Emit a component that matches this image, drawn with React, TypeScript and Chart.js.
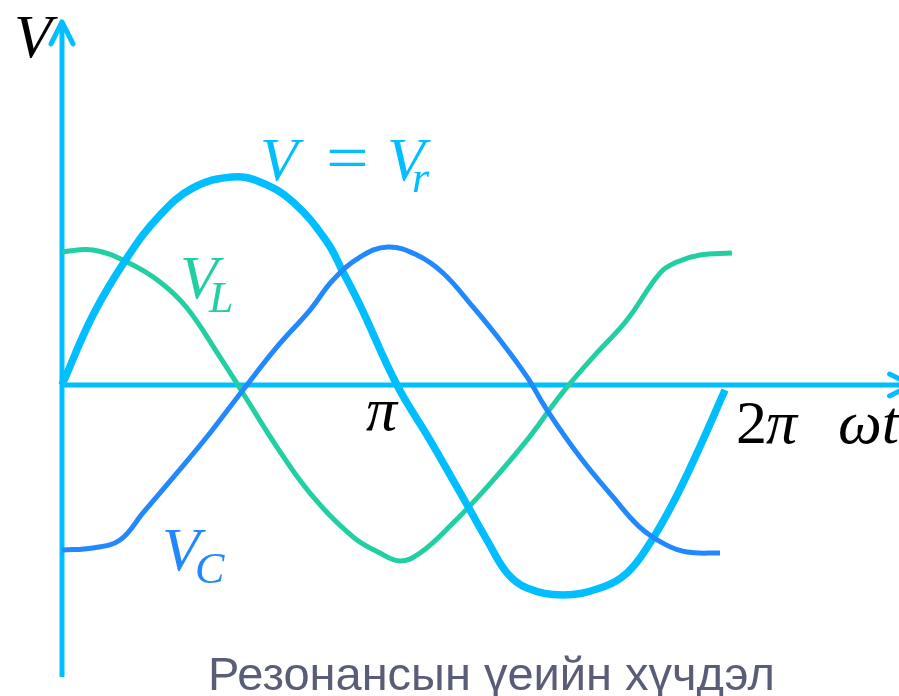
import React, { useEffect, useRef } from "react";
import { Chart, registerables } from "chart.js";

Chart.register(...registerables);

// Phase (degrees of ωt) and values (arbitrary volts)
const vrPhase = [0, 16.86, 35.35, 53.29, 71.24, 92.45, 107.67, 125.62, 144.11, 152.81, 162.05, 182.17, 200.12, 212.63, 221.87, 231.12, 242.0, 252.87, 272.45, 292.57, 307.25, 319.76, 332.27, 345.32, 360.54];
const vrValues = [0, 3.38, 6.14, 8.21, 9.52, 10.05, 9.81, 8.84, 6.91, 5.46, 3.86, 0, -2.66, -4.59, -6.04, -7.49, -9.08, -9.81, -10.14, -9.81, -9.08, -7.63, -5.7, -3.29, -0.24];

const vlPhase = [0, 16.86, 35.35, 53.29, 67.98, 85.92, 97.34, 116.92, 134.86, 158.25, 172.93, 183.81, 194.68, 212.63, 231.12, 252.87, 267.0, 274.6, 288.8, 307.25, 325.2, 334.4, 346.9, 364.3];
const vlValues = [6.43, 6.52, 5.94, 4.98, 3.72, 1.35, -0.24, -3.0, -5.22, -7.34, -8.12, -8.5, -8.12, -6.67, -4.93, -2.66, -0.97, -0.1, 1.35, 3.14, 5.41, 5.94, 6.28, 6.38];

const vcPhase = [0, 16.86, 31.54, 44.05, 62.54, 80.48, 98.43, 116.92, 134.86, 147.37, 162.05, 177.28, 193.05, 207.19, 223.5, 238.18, 252.87, 263.75, 281.7, 299.6, 314.0, 328.0, 339.88, 357.83];
const vcValues = [-7.97, -7.87, -7.49, -6.18, -4.25, -2.32, -0.24, 1.84, 3.62, 5.07, 6.18, 6.67, 6.28, 5.41, 3.77, 2.17, 0.39, -1.21, -3.48, -5.41, -6.85, -7.7, -8.07, -8.12];

const tickPhases = [180, 360];
const tickLabels = ["π", "2π"];
const seriesNames = ["V_C", "V = V_r", "V_L"];
const titleText = "Резонансын үеийн хүчдэл";

const CYAN = "#00BEFF";
const GREEN = "#22CFA2";
const BLUE = "#2288FF";

function pts(xs: number[], ys: number[]) {
  return xs.map((x, i) => ({ x, y: ys[i] }));
}

const decorPlugin = {
  id: "decor",
  beforeDatasetsDraw(chart: any) {
    const ctx = chart.ctx as CanvasRenderingContext2D;
    const xs = chart.scales.x;
    const ys = chart.scales.y;
    const x0 = xs.getPixelForValue(0);
    const y0 = ys.getPixelForValue(0);
    const yTop = ys.getPixelForValue(17.54);
    const yBot = ys.getPixelForValue(-14.11);
    const xEnd = xs.getPixelForValue(462);
    ctx.save();
    ctx.strokeStyle = CYAN;
    ctx.lineWidth = 5;
    ctx.lineCap = "butt";
    ctx.beginPath();
    ctx.moveTo(x0, yBot);
    ctx.lineTo(x0, yTop + 2);
    ctx.moveTo(x0, y0);
    ctx.lineTo(xEnd - 2, y0);
    ctx.stroke();
    ctx.lineCap = "round";
    ctx.lineJoin = "round";
    ctx.beginPath();
    ctx.moveTo(x0 - 11, yTop + 22);
    ctx.lineTo(x0, yTop);
    ctx.lineTo(x0 + 11, yTop + 22);
    ctx.moveTo(xEnd - 22, y0 - 11);
    ctx.lineTo(xEnd, y0);
    ctx.lineTo(xEnd - 22, y0 + 11);
    ctx.stroke();
    ctx.restore();
  },
  afterDraw(chart: any) {
    const ctx = chart.ctx as CanvasRenderingContext2D;
    const xs = chart.scales.x;
    const math = 'italic 62px "Liberation Serif"';
    const sub = 'italic 44px "Liberation Serif"';
    ctx.save();
    ctx.textAlign = "left";
    ctx.textBaseline = "alphabetic";

    // y-axis name
    ctx.fillStyle = "#000";
    ctx.font = math;
    ctx.fillText("V", 14, 57);

    // tick labels
    ctx.textAlign = "right";
    ctx.fillText(tickLabels[0], xs.getPixelForValue(tickPhases[0]) + 4, 430);
    ctx.textAlign = "left";
    ctx.font = '62px "Liberation Serif"';
    ctx.fillText("2", xs.getPixelForValue(tickPhases[1]) + 12, 443);
    ctx.font = math;
    ctx.fillText("π", xs.getPixelForValue(tickPhases[1]) + 42, 443);
    ctx.fillText("ωt", 838, 443);

    // V = V_r
    ctx.fillStyle = CYAN;
    ctx.font = math;
    ctx.fillText("V", 260, 180);
    ctx.font = '66px "Liberation Serif"';
    ctx.save();
    ctx.translate(326, 180);
    ctx.scale(1.15, 1);
    ctx.fillText("=", 0, 0);
    ctx.restore();
    ctx.font = math;
    ctx.fillText("V", 387, 180);
    ctx.font = sub;
    ctx.fillText("r", 412, 192);

    // V_L
    ctx.fillStyle = GREEN;
    ctx.font = math;
    ctx.fillText("V", 180, 298);
    ctx.font = sub;
    ctx.fillText("L", 209, 312);

    // V_C
    ctx.fillStyle = BLUE;
    ctx.font = math;
    ctx.fillText("V", 162, 570);
    ctx.font = sub;
    ctx.fillText("C", 195, 583);

    // title
    ctx.fillStyle = "#595D78";
    ctx.font = '47px "Liberation Sans"';
    ctx.fillText(titleText, 208, 690);
    ctx.restore();
  },
};

export default function App() {
  const ref = useRef<HTMLCanvasElement | null>(null);
  useEffect(() => {
    document.body.style.margin = "0";
    const canvas = ref.current;
    if (!canvas) return;
    const chart = new Chart(canvas, {
      type: "line",
      data: {
        datasets: [
          {
            label: seriesNames[0],
            data: pts(vcPhase, vcValues),
            borderColor: BLUE,
            borderWidth: 5,
          },
          {
            label: seriesNames[1],
            data: pts(vrPhase, vrValues),
            borderColor: CYAN,
            borderWidth: 7.5,
          },
          {
            label: seriesNames[2],
            data: pts(vlPhase, vlValues),
            borderColor: GREEN,
            borderWidth: 5,
          },
        ],
      },
      options: {
        animation: false,
        responsive: false,
        maintainAspectRatio: false,
        layout: { padding: 0 },
        elements: {
          point: { radius: 0, hoverRadius: 0 },
          line: { tension: 0.4, cubicInterpolationMode: "default", fill: false, borderCapStyle: "butt", borderJoinStyle: "round" },
        },
        scales: {
          x: { type: "linear", display: false, min: -33.716, max: 455.17 },
          y: { type: "linear", display: false, min: -15.024, max: 18.599 },
        },
        plugins: {
          legend: { display: false },
          tooltip: { enabled: false },
        },
      },
      plugins: [decorPlugin],
    });
    return () => chart.destroy();
  }, []);
  return (
    <div style={{ width: 899, height: 696, background: "#fff" }}>
      <canvas ref={ref} width={899} height={696} style={{ display: "block" }} />
    </div>
  );
}
